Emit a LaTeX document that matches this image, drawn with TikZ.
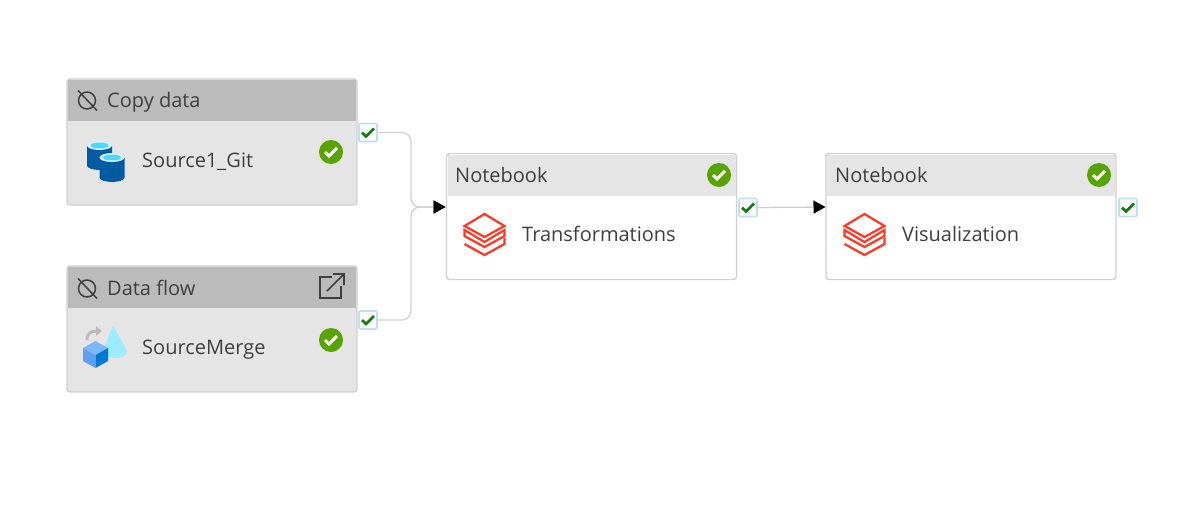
\documentclass[tikz,border=0pt]{standalone}
\usepackage{fontspec}
\setmainfont{Open Sans}
\usepackage{xcolor}
\usetikzlibrary{arrows.meta,positioning}
\definecolor{edgegrey}{HTML}{D0D0D0}
\definecolor{boxgrey}{HTML}{E5E5E5}
\definecolor{headgrey}{HTML}{BBBBBB}
\definecolor{inkgrey}{HTML}{3F3F3F}
\definecolor{okgreen}{HTML}{57A300}
\definecolor{tickgreen}{HTML}{107C10}
\definecolor{portblue}{HTML}{BFDFF7}
\definecolor{brickred}{HTML}{FF3621}
\definecolor{drumblue}{HTML}{005BA1}
\definecolor{drumtop}{HTML}{50D8F8}
\definecolor{drumrim}{HTML}{D5F3FA}
\definecolor{conecyan}{HTML}{9CEBFF}
\definecolor{cubetop}{HTML}{7EB6FB}
\definecolor{cubeleft}{HTML}{5EA0EF}
\definecolor{cuberight}{HTML}{0078D4}
\tikzset{%
	activity/.style = {draw=edgegrey, line width=1.4pt, rectangle, rounded corners=3pt, minimum width=290pt, minimum height=126pt, inner sep=0pt},
	header/.style   = {rectangle, minimum width=288pt, minimum height=41pt, inner sep=0pt},
	title/.style    = {anchor=base west, inner sep=0pt, text=inkgrey, font=\fontsize{20}{24}\selectfont},
	port/.style     = {draw=portblue, line width=1.6pt, fill=white, rectangle, rounded corners=1pt, minimum size=18pt, inner sep=0pt},
	link/.style     = {draw=edgegrey, line width=1.3pt, rounded corners=9pt, -{Triangle[length=12pt,width=13pt,black]}},
	tick/.pic       = {\draw[tickgreen, line width=2.6pt] (-6,0) -- (-2,4) -- (6,-4);},
	okbadge/.pic    = {\fill[okgreen] (0,0) circle (12);
		\draw[white, line width=3pt] (-6,0) -- (-2,4) -- (6,-4);},
	nodep/.pic      = {\draw[inkgrey, line width=1.5pt] (0,0) circle (8.5) (-9,-10) -- (10,10);},
	bricks/.pic     = {\draw[brickred, line width=2.2pt, line join=miter]
			(0,-12) -- (20,0) -- (0,11) -- (-20,0) -- cycle
			(-20,4) -- (0,16) -- (20,4) -- (20,10) -- (0,21) -- (-20,10) -- cycle
			(20,12) -- (20,18) -- (0,29) -- (-20,18);},
	drum/.pic       = {\fill[drumblue] (-12.5,0) -- (-12.5,20) arc[start angle=180, end angle=0, x radius=12.5, y radius=4.5] -- (12.5,0) -- cycle;
		\fill[drumrim] (0,0) ellipse (12.5 and 4.5);
		\fill[drumtop] (0,0) ellipse (9 and 3);},
}
\begin{document}
\begin{tikzpicture}[x=1pt,y=-1pt]
	\useasboundingbox (0,0) rectangle (1181,509);
	% boxes
	\node[activity, fill=boxgrey] (boxCopy) at (212,142) {};
	\node[activity, fill=boxgrey] (boxFlow) at (212,329) {};
	\node[activity, fill=white] (boxTrans) at (591.5,216.5) {};
	\node[activity, fill=white] (boxVis) at (971,216.5) {};
	\node[header, fill=headgrey] (headCopy) at (212,100) {};
	\node[header, fill=headgrey] (headFlow) at (212,287) {};
	\node[header, fill=boxgrey] (headTrans) at (591.5,175) {};
	\node[header, fill=boxgrey] (headVis) at (971,175) {};
	% texts
	\node[title] (capCopy) at (107,107.5) {Copy data};
	\node[title] (capFlow) at (107,295) {Data flow};
	\node[title] (capTrans) at (455,182.5) {Notebook};
	\node[title] (capVis) at (835,182.5) {Notebook};
	\node[title] (nameCopy) at (142,167) {Source1\_Git};
	\node[title] (nameFlow) at (142,354) {SourceMerge};
	\node[title] (nameTrans) at (522,241.5) {Transformations};
	\node[title] (nameVis) at (902,241.5) {Visualization};
	% ports
	\node[port] (outCopy) at (368,132.5) {};
	\node[port] (outFlow) at (368,320) {};
	\node[port] (outTrans) at (748,207.5) {};
	\node[port] (outVis) at (1128,207.5) {};
	\foreach \where in {outCopy,outFlow,outTrans,outVis}
		\pic at (\where) {tick};
	% connectors
	\coordinate (turnTrans) at (411,207);
	\coordinate (inTrans) at (445.5,207);
	\coordinate (inVis) at (825.5,207);
	\draw[link] (outCopy.east) -| (turnTrans) -- (inTrans);
	\draw[link] (outFlow.east) -| (turnTrans) -- (inTrans);
	\draw[link] (outTrans.east) -- (inVis);
	% status and icons
	\pic at (331,152) {okbadge};
	\pic at (331,340) {okbadge};
	\pic at (719,175) {okbadge};
	\pic at (1099,175) {okbadge};
	\pic at (87,100.5) {nodep};
	\pic at (87,288.5) {nodep};
	\pic at (99.5,145.5) {drum};
	\pic at (112,157.5) {drum};
	\pic at (484.5,226) {bricks};
	\pic at (864.5,226) {bricks};
	% data flow picture
	\fill[conecyan] (113,325) -- (127,351) arc[start angle=0, end angle=180, x radius=12, y radius=7] -- cycle;
	\draw[headgrey, line width=3pt] (87,340) .. controls (87,333) and (91,331) .. (97,331);
	\fill[headgrey] (96,326) -- (102,331) -- (96,336) -- cycle;
	\fill[cubetop] (95.5,341) -- (108,348) -- (95.5,355) -- (83,348) -- cycle;
	\fill[cubeleft] (83,348) -- (95.5,355) -- (95.5,368) -- (83,361) -- cycle;
	\fill[cuberight] (108,348) -- (95.5,355) -- (95.5,368) -- (108,361) -- cycle;
	% open in new window
	\draw[inkgrey, line width=1.6pt] (332,277) -- (320,277) -- (320,298) -- (341,298) -- (341,286);
	\draw[inkgrey, line width=1.6pt] (327,291) -- (344,274) (333,274) -- (344,274) -- (344,285);
\end{tikzpicture}
\end{document}
